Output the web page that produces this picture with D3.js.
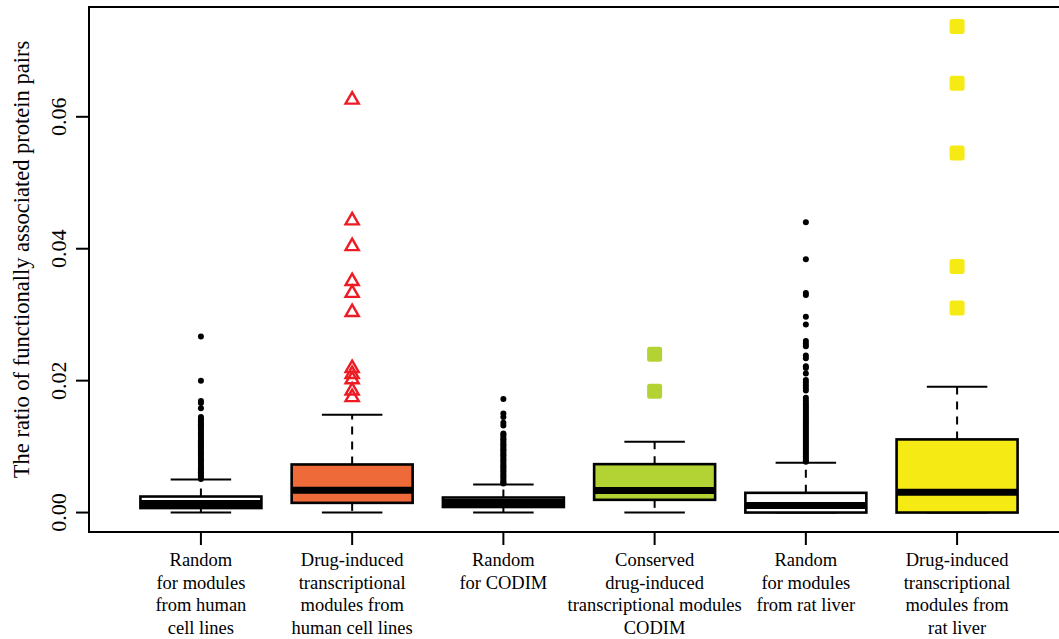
<!DOCTYPE html>
<html>
<head>
<meta charset="utf-8">
<title>Functionally associated protein pairs</title>
<script src="https://cdnjs.cloudflare.com/ajax/libs/d3/7.8.5/d3.min.js"></script>
<style>
body { margin: 0; background: #fff; }
text { font-family: "Liberation Serif", "Times New Roman", serif; fill: #000; }
</style>
</head>
<body>
<div id="chart"></div>
<script>

/* --------------------
  data
-------------------- */

var categories = [
  "Random\nfor modules\nfrom human\ncell lines",
  "Drug-induced\ntranscriptional\nmodules from\nhuman cell lines",
  "Random\nfor CODIM",
  "Conserved\ndrug-induced\ntranscriptional modules\nCODIM",
  "Random\nfor modules\nfrom rat liver",
  "Drug-induced\ntranscriptional\nmodules from\nrat liver"
];

var whiskerLow  = [0, 0, 0, 0, 0, 0];
var quartile1   = [0.00068, 0.00147, 0.00084, 0.00193, 0.0000, 0.0000];
var medians     = [0.00137, 0.00339, 0.00152, 0.00334, 0.00106, 0.00308];
var quartile3   = [0.00243, 0.00729, 0.00228, 0.00734, 0.00299, 0.01109];
var whiskerHigh = [0.0050, 0.01484, 0.00425, 0.01073, 0.00755, 0.01909];

var fills = ["#ffffff", "#ef6a39", "#ffffff", "#b3d334", "#ffffff", "#f6ea14"];

var outHumanRandom = [0.0267, 0.0200, 0.0169, 0.0166, 0.0158, 0.0145, 0.0142, 0.0140,
  0.0137, 0.0134, 0.0132, 0.0129, 0.0127, 0.0124, 0.0121, 0.0118, 0.0116, 0.0113,
  0.0110, 0.0108, 0.0105, 0.0102, 0.0099, 0.0097, 0.0094, 0.0091, 0.0089, 0.0086,
  0.0083, 0.0080, 0.0078, 0.0075, 0.0072, 0.0069, 0.0067, 0.0064, 0.0061, 0.0059,
  0.0056, 0.0053, 0.0051];
var outHumanDrug = [0.0626, 0.0443, 0.0404, 0.0351, 0.0333, 0.0304,
  0.0219, 0.0210, 0.0202, 0.0185, 0.0175];
var outCodimRandom = [0.0172, 0.0150, 0.0145, 0.0136, 0.0132, 0.0120, 0.0118, 0.0115,
  0.0112, 0.0110, 0.0107, 0.0104, 0.0102, 0.0099, 0.0096, 0.0094, 0.0091, 0.0088,
  0.0086, 0.0083, 0.0080, 0.0078, 0.0075, 0.0072, 0.0070, 0.0067, 0.0064, 0.0062,
  0.0059, 0.0056, 0.0054, 0.0051, 0.0048, 0.0046, 0.0044];
var outCodim = [0.0240, 0.0184];
var outRatRandom = [0.0440, 0.0384, 0.0333, 0.0330, 0.0297, 0.0285, 0.0260, 0.0256,
  0.0252, 0.0238, 0.0234, 0.0222, 0.0219, 0.0211, 0.0201, 0.0197, 0.0193, 0.0189,
  0.0185, 0.0174, 0.0170, 0.0166, 0.0163, 0.0160, 0.0157, 0.0154, 0.0151, 0.0148,
  0.0145, 0.0142, 0.0139, 0.0136, 0.0133, 0.0130, 0.0127, 0.0124, 0.0121, 0.0118,
  0.0115, 0.0112, 0.0109, 0.0106, 0.0103, 0.0100, 0.0097, 0.0094, 0.0091, 0.0088,
  0.0085, 0.0082, 0.0079, 0.0077];
var outRatDrug = [0.0737, 0.0651, 0.0545, 0.0373, 0.0310];

var outliers = [outHumanRandom, outHumanDrug, outCodimRandom, outCodim, outRatRandom, outRatDrug];
var outlierShape = ["dot", "triangle", "dot", "square", "dot", "square"];
var outlierColor = ["#000000", "#ed1c24", "#000000", "#b3d334", "#000000", "#f6ea14"];

var yTicks = [0.00, 0.02, 0.04, 0.06];

/* --------------------
  layout
-------------------- */

var width = 1059, height = 639;
var plotLeft = 89, plotRight = 1069, plotTop = 7, plotBottom = 532;

var svg = d3.select("#chart").append("svg")
    .attr("width", width)
    .attr("height", height);

/* R style: 4% padding round the data range */
var allMax = d3.max(outliers.map(function(o) { return d3.max(o); }).concat(whiskerHigh));
var pad = allMax * 0.04;
var y = d3.scaleLinear()
    .domain([-pad, allMax + pad])
    .range([plotBottom, plotTop]);

var n = categories.length;
var x = d3.scaleLinear()
    .domain([0.5 - n * 0.04, n + 0.5 + n * 0.04])
    .range([plotLeft, plotRight]);
var unit = x(2) - x(1);
var boxW = unit * 0.8;
var capW = boxW / 2;

/* --------------------
  boxes
-------------------- */

var boxes = svg.append("g").selectAll("g.box")
    .data(d3.range(n))
    .enter().append("g")
      .attr("class", "box");

// dashed whiskers
boxes.append("line")
    .attr("x1", function(i) { return x(i + 1); })
    .attr("x2", function(i) { return x(i + 1); })
    .attr("y1", function(i) { return y(quartile3[i]); })
    .attr("y2", function(i) { return y(whiskerHigh[i]); })
    .attr("stroke", "#000").attr("stroke-width", 2)
    .attr("stroke-dasharray", "8,7");
boxes.append("line")
    .attr("x1", function(i) { return x(i + 1); })
    .attr("x2", function(i) { return x(i + 1); })
    .attr("y1", function(i) { return y(quartile1[i]); })
    .attr("y2", function(i) { return y(whiskerLow[i]); })
    .attr("stroke", "#000").attr("stroke-width", 2)
    .attr("stroke-dasharray", "8,7");

// caps
[whiskerHigh, whiskerLow].forEach(function(arr) {
  boxes.append("line")
      .attr("x1", function(i) { return x(i + 1) - capW / 2; })
      .attr("x2", function(i) { return x(i + 1) + capW / 2; })
      .attr("y1", function(i) { return y(arr[i]); })
      .attr("y2", function(i) { return y(arr[i]); })
      .attr("stroke", "#000").attr("stroke-width", 2);
});

boxes.append("rect")
    .attr("x", function(i) { return x(i + 1) - boxW / 2; })
    .attr("width", boxW)
    .attr("y", function(i) { return y(quartile3[i]); })
    .attr("height", function(i) { return y(quartile1[i]) - y(quartile3[i]); })
    .attr("fill", function(i) { return fills[i]; })
    .attr("stroke", "#000").attr("stroke-width", 2.6);

boxes.append("line")
    .attr("x1", function(i) { return x(i + 1) - boxW / 2; })
    .attr("x2", function(i) { return x(i + 1) + boxW / 2; })
    .attr("y1", function(i) { return y(medians[i]); })
    .attr("y2", function(i) { return y(medians[i]); })
    .attr("stroke", "#000").attr("stroke-width", 7);

/* --------------------
  outliers
-------------------- */

var pts = [];
outliers.forEach(function(arr, i) {
  arr.forEach(function(v) { pts.push({ i: i, v: v }); });
});

var og = svg.append("g");
pts.forEach(function(p) {
  var cx = x(p.i + 1), cy = y(p.v);
  var shape = outlierShape[p.i], col = outlierColor[p.i];
  if (shape === "dot") {
    og.append("circle").attr("cx", cx).attr("cy", cy).attr("r", 3).attr("fill", col);
  } else if (shape === "triangle") {
    og.append("path")
        .attr("d", "M0,-7.5L6.6,4L-6.6,4Z")
        .attr("transform", "translate(" + cx + "," + cy + ")")
        .attr("fill", "none").attr("stroke", col).attr("stroke-width", 2.4);
  } else {
    og.append("rect")
        .attr("x", cx - 7.5).attr("y", cy - 7.5)
        .attr("width", 15).attr("height", 15)
        .attr("rx", 2.5).attr("fill", col);
  }
});

/* --------------------
  frame and axes
-------------------- */

svg.append("rect")
    .attr("x", plotLeft).attr("y", plotTop)
    .attr("width", plotRight - plotLeft).attr("height", plotBottom - plotTop)
    .attr("fill", "none").attr("stroke", "#000").attr("stroke-width", 2);

var yAxis = svg.append("g");
yAxis.selectAll("line")
    .data(yTicks).enter().append("line")
    .attr("x1", plotLeft - 13).attr("x2", plotLeft)
    .attr("y1", function(d) { return y(d); })
    .attr("y2", function(d) { return y(d); })
    .attr("stroke", "#000").attr("stroke-width", 2);
yAxis.selectAll("text")
    .data(yTicks).enter().append("text")
    .attr("transform", function(d) { return "translate(66," + y(d) + ") rotate(-90)"; })
    .attr("text-anchor", "middle")
    .style("font-size", "22px")
    .text(d3.format(".2f"));

svg.append("text")
    .attr("transform", "translate(29," + ((plotTop + plotBottom) / 2 - 10) + ") rotate(-90)")
    .attr("text-anchor", "middle")
    .style("font-size", "22.5px")
    .text("The ratio of functionally associated protein pairs");

var xAxis = svg.append("g");
xAxis.selectAll("line")
    .data(d3.range(n)).enter().append("line")
    .attr("x1", function(i) { return x(i + 1); })
    .attr("x2", function(i) { return x(i + 1); })
    .attr("y1", plotBottom).attr("y2", plotBottom + 13)
    .attr("stroke", "#000").attr("stroke-width", 2);

var labels = xAxis.selectAll("text")
    .data(categories).enter().append("text")
    .attr("text-anchor", "middle")
    .style("font-size", "18.5px");
labels.each(function(d, i) {
  var t = d3.select(this);
  d.split("\n").forEach(function(line, k) {
    t.append("tspan")
        .attr("x", x(i + 1))
        .attr("y", 566 + k * 22.7)
        .text(line);
  });
});

</script>
</body>
</html>
